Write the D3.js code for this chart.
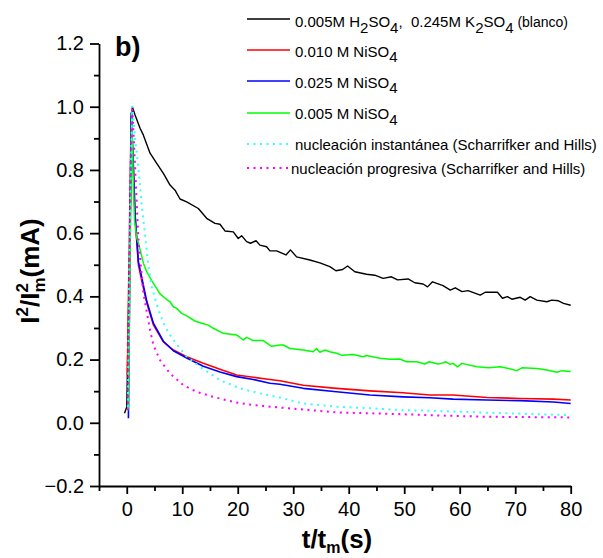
<!DOCTYPE html>
<html><head><meta charset="utf-8">
<script src="https://cdn.jsdelivr.net/npm/d3@7/dist/d3.min.js"></script>
<style>
body{margin:0;background:#fff;}
svg{display:block;font-family:"Liberation Sans",Arial,sans-serif;}
text{white-space:pre;}
</style></head>
<body><svg id="c" width="603" height="558"></svg>
<script>
// ---- data ----
const blancoT = [-0.4,0,1.0,1.5,2.4,3.0,4.2,5.4,6.6,7.8,8.7,9.6,10.8,12.9,14.4,15.9,16.8,17.7,19.2,20.1,20.7,21.6,22.3,23.3,24.0,25.2,25.8,27.0,28.7,29.5,30.6,33.0,34.8,36.6,37.7,38.9,39.8,41.1,43.2,44.7,46.2,47.7,48.8,50.7,51.9,53.4,54.2,55.1,57.0,58.3,59.2,60.4,61.5,63.7,64.6,66.8,67.7,68.6,69.4,70.9,71.8,72.7,73.9,75.7,76.6,77.8,78.7,80];
const blancoV = [0.03,0.05,1.0,0.974,0.932,0.910,0.853,0.821,0.789,0.752,0.736,0.708,0.699,0.678,0.647,0.631,0.628,0.607,0.604,0.583,0.592,0.573,0.568,0.576,0.562,0.557,0.544,0.544,0.531,0.547,0.525,0.515,0.506,0.494,0.481,0.485,0.496,0.478,0.470,0.467,0.457,0.462,0.452,0.455,0.443,0.439,0.430,0.446,0.434,0.420,0.427,0.415,0.418,0.404,0.413,0.413,0.394,0.399,0.391,0.397,0.388,0.399,0.388,0.383,0.388,0.386,0.378,0.372];

const ni010T = [0.1,0.8,1.2,1.5,2.1,2.7,3.6,4.8,6.6,8.4,10.8,13.8,16.8,19.8,22.8,25.8,27.6,31.8,37.8,43.8,49.8,54.6,58.8,64.9,70.9,76.9,80];
const ni010V = [0.15,0.97,0.80,0.65,0.50,0.45,0.38,0.31,0.256,0.230,0.209,0.188,0.169,0.151,0.144,0.137,0.133,0.119,0.109,0.101,0.095,0.088,0.088,0.080,0.077,0.075,0.072];

const ni025T = [0.3,0.8,1.2,1.5,2.1,2.7,3.6,4.8,6.6,8.4,10.8,13.8,16.8,19.8,22.8,25.8,27.6,31.8,37.8,43.8,49.8,54.6,58.8,64.9,70.9,76.9,80];
const ni025V = [0.014,0.98,0.81,0.66,0.51,0.46,0.385,0.315,0.258,0.228,0.205,0.179,0.161,0.146,0.137,0.125,0.122,0.109,0.098,0.088,0.082,0.079,0.075,0.072,0.070,0.066,0.061];

const ni005T = [0.3,0.9,1.2,1.4,1.8,2.1,3.0,3.6,4.5,6.0,7.2,7.8,8.4,9.0,9.9,10.8,12.3,13.5,14.7,15.6,17.4,19.8,21.0,21.6,22.8,24.6,26.1,27.6,28.2,29.4,31.8,33.6,34.2,34.8,35.7,36.6,37.8,38.7,40.8,42.6,43.2,45.6,47.4,49.2,50.4,52.3,53.7,54.5,56.1,56.7,57.5,58.3,58.8,59.6,60.4,63.1,65.2,67.3,68.8,70.3,71.2,73.9,75.7,77.5,78.4,80];
const ni005V = [0.04,0.98,0.75,0.64,0.584,0.57,0.505,0.478,0.45,0.408,0.39,0.383,0.367,0.362,0.346,0.338,0.322,0.315,0.309,0.299,0.283,0.278,0.262,0.270,0.260,0.260,0.242,0.246,0.246,0.235,0.230,0.225,0.235,0.223,0.230,0.225,0.220,0.214,0.216,0.209,0.213,0.204,0.201,0.202,0.193,0.193,0.186,0.193,0.186,0.188,0.193,0.185,0.188,0.177,0.188,0.177,0.174,0.177,0.172,0.165,0.174,0.172,0.167,0.160,0.165,0.162];

const instT = [0.2,0.5,1.0,1.5,2.1,2.7,3.3,3.9,4.5,5.7,6.9,8.4,10.8,13.2,16.8,20.4,24.0,27.6,31.8,37.8,43.8,49.8,54.6,64.9,80];
const instV = [0.05,0.6,1.0,0.9,0.805,0.689,0.594,0.495,0.43,0.357,0.304,0.262,0.209,0.177,0.135,0.109,0.093,0.080,0.061,0.051,0.046,0.040,0.038,0.032,0.024];

const progT = [0.2,0.5,0.7,1.0,1.5,2.1,3.0,4.2,4.8,6.0,7.8,10.2,12.6,15.6,19.2,22.8,25.8,31.8,37.8,43.8,49.8,54.6,64.9,80];
const progV = [0.04,0.43,0.81,1.0,0.81,0.58,0.41,0.293,0.246,0.198,0.156,0.119,0.098,0.082,0.066,0.056,0.051,0.042,0.033,0.030,0.027,0.024,0.019,0.017];

const xMajor = [0,10,20,30,40,50,60,70,80];
const xMinor = [-5,5,15,25,35,45,55,65,75];
const yMajor = [-0.2,0.0,0.2,0.4,0.6,0.8,1.0,1.2];
const yMinor = [-0.1,0.1,0.3,0.5,0.7,0.9,1.1];

const seriesColors = ["#000000","#ff0000","#0000ff","#00ff00","#33ffff","#ff00ff"];

// ---- chart ----
const svg = d3.select("#c");
const x = d3.scaleLinear().domain([-5,80]).range([99,570.7]);
const y = d3.scaleLinear().domain([-0.2,1.2]).range([486,43.5]);

const series = [
  {t:blancoT,v:blancoV,color:seriesColors[0],w:1.4,dash:null},
  {t:ni010T,v:ni010V,color:seriesColors[1],w:1.6,dash:null},
  {t:ni025T,v:ni025V,color:seriesColors[2],w:1.6,dash:null},
  {t:ni005T,v:ni005V,color:seriesColors[3],w:1.5,dash:null},
  {t:instT,v:instV,color:seriesColors[4],w:2,dash:"2,4.5"},
  {t:progT,v:progV,color:seriesColors[5],w:2,dash:"2,4.5"}
];

const line = d3.line().x(d=>x(d[0])).y(d=>y(d[1]));
series.forEach(s=>{
  const pts = s.t.map((t,i)=>[t,s.v[i]]);
  svg.append("path").datum(pts).attr("d",line)
    .attr("fill","none").attr("stroke",s.color).attr("stroke-width",s.w)
    .attr("stroke-dasharray",s.dash).attr("stroke-linejoin","round");
});

// axes
const xAxisMaj = d3.axisBottom(x).tickValues(xMajor).tickSize(8).tickFormat(d3.format("d"));
const xAxisMin = d3.axisBottom(x).tickValues(xMinor).tickSize(5).tickFormat("");
const yAxisMaj = d3.axisLeft(y).tickValues(yMajor).tickSize(9).tickFormat(d3.format(".1f"));
const yAxisMin = d3.axisLeft(y).tickValues(yMinor).tickSize(5).tickFormat("");

function styleAxis(g){
  g.select(".domain").attr("stroke","#000").attr("stroke-width",1.8);
  g.selectAll(".tick line").attr("stroke","#000").attr("stroke-width",1.8);
  g.selectAll(".tick text").attr("fill","#000").attr("font-size",20).attr("font-family","Liberation Sans, Arial, sans-serif");
}
const gx = svg.append("g").attr("transform","translate(0,486)").call(xAxisMaj.tickSizeOuter(0)).call(styleAxis);
gx.selectAll(".tick text").attr("dy","0.71em").attr("y",16);
svg.append("g").attr("transform","translate(0,486)").call(xAxisMin.tickSizeOuter(0)).call(styleAxis).select(".domain").remove();
const gy = svg.append("g").attr("transform","translate(99,0)").call(yAxisMaj.tickSizeOuter(0)).call(styleAxis);
gy.selectAll(".tick text").attr("x",-15);
svg.append("g").attr("transform","translate(99,0)").call(yAxisMin.tickSizeOuter(0)).call(styleAxis).select(".domain").remove();

// panel label
svg.append("text").attr("x",115).attr("y",56).attr("font-size",27).attr("font-weight","bold").text("b)");

// axis titles
const yt = svg.append("text").attr("transform","translate(39,271) rotate(-90)")
  .attr("text-anchor","middle").attr("font-size",26).attr("font-weight","bold");
yt.append("tspan").text("I");
yt.append("tspan").attr("font-size",17).attr("dy",-11).text("2");
yt.append("tspan").attr("dy",11).text("/I");
yt.append("tspan").attr("font-size",17).attr("dy",-11).text("2");
yt.append("tspan").attr("font-size",17).attr("dx",-9.5).attr("dy",17).text("m");
yt.append("tspan").attr("dy",-6).text("(mA)");

const xt = svg.append("text").attr("x",337).attr("y",548)
  .attr("text-anchor","middle").attr("font-size",26).attr("font-weight","bold");
xt.append("tspan").text("t/t");
xt.append("tspan").attr("font-size",16).attr("dy",5).text("m");
xt.append("tspan").attr("dy",-5).text("(s)");

// legend
const legRows = [
  {ly:19, ty:27, tx:295, parts:[["0.005M H",0],["2",1],["SO",0],["4",1],[",  0.245M K",0],["2",1],["SO",0],["4",1],[" (blanco)",2]]},
  {ly:50, ty:56.5, tx:295, parts:[["0.010 M NiSO",0],["4",1]]},
  {ly:81, ty:87.5, tx:295, parts:[["0.025 M NiSO",0],["4",1]]},
  {ly:113, ty:119, tx:295, parts:[["0.005 M NiSO",0],["4",1]]},
  {ly:144, ty:150, tx:295, parts:[["nucleación instantánea (Scharrifker and Hills)",0]]},
  {ly:168, ty:174, tx:291, parts:[["nucleación progresiva (Scharrifker and Hills)",0]]}
];
legRows.forEach((r,i)=>{
  const s = series[i];
  svg.append("line").attr("x1",247).attr("x2",i>=4?288:290).attr("y1",r.ly).attr("y2",r.ly)
    .attr("stroke",s.color).attr("stroke-width",s.w).attr("stroke-dasharray",s.dash);
  const t = svg.append("text").attr("x",r.tx).attr("y",r.ty).attr("font-size",15).attr("fill","#000");
  let shifted = false;
  r.parts.forEach(p=>{
    const ts = t.append("tspan").text(p[0]);
    if(p[1]===1){ if(!shifted){ts.attr("dy",5.5);shifted=true;} }
    else { if(shifted){ts.attr("dy",-5.5);shifted=false;} }
    if(p[1]===2) ts.attr("font-size",14);
  });
});
</script></body></html>
